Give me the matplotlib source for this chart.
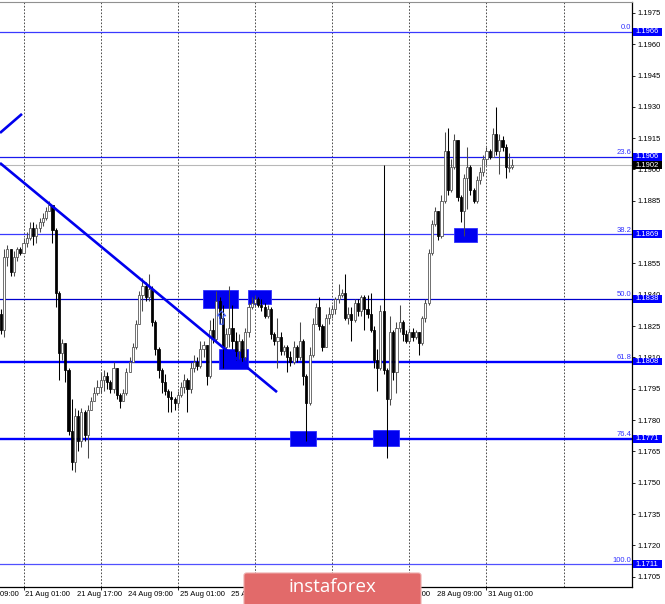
import matplotlib
matplotlib.use("Agg")
import matplotlib.pyplot as plt
import matplotlib.transforms as mtransforms
from matplotlib.patches import Rectangle, FancyBboxPatch
from matplotlib.path import Path
import numpy as np

# ---------------- data (EURUSD H1) ----------------
first_open = 1.1831
closes = [1.1823, 1.1858, 1.1862, 1.1851, 1.1858, 1.1862, 1.1860, 1.1865, 1.1867, 1.1872,
          1.1868, 1.1872, 1.1875, 1.1877, 1.1880, 1.1883, 1.1871, 1.1841, 1.1812, 1.1817,
          1.1804, 1.1775, 1.1760, 1.1782, 1.1770, 1.1784, 1.1773, 1.1785, 1.1789, 1.1793,
          1.1796, 1.1799, 1.1801, 1.1798, 1.1795, 1.1805, 1.1792, 1.1789, 1.1793, 1.1803,
          1.1808, 1.1815, 1.1826, 1.1840, 1.1844, 1.1839, 1.1843, 1.1827, 1.1814, 1.1804,
          1.1798, 1.1794, 1.1791, 1.1790, 1.1788, 1.1792, 1.1796, 1.1799, 1.1795, 1.1805,
          1.1808, 1.1806, 1.1814, 1.1816, 1.1801, 1.1823, 1.1819, 1.1837, 1.1829, 1.1815,
          1.1821, 1.1824, 1.1818, 1.1813, 1.1818, 1.1810, 1.1822, 1.1834, 1.1836, 1.1838,
          1.1835, 1.1834, 1.1830, 1.1833, 1.1821, 1.1818, 1.1820, 1.1813, 1.1815, 1.1810,
          1.1808, 1.1815, 1.1810, 1.1818, 1.1801, 1.1788, 1.1811, 1.1826, 1.1834, 1.1825,
          1.1815, 1.1829, 1.1831, 1.1833, 1.1838, 1.1840, 1.1841, 1.1829, 1.1831, 1.1828,
          1.1836, 1.1832, 1.1839, 1.1833, 1.1831, 1.1823, 1.1809, 1.1805, 1.1832, 1.1804,
          1.1790, 1.1822, 1.1803, 1.1824, 1.1827, 1.1821, 1.1818, 1.1822, 1.1820, 1.1822,
          1.1817, 1.1829, 1.1836, 1.1860, 1.1874, 1.1880, 1.1868, 1.1885, 1.1909, 1.1890,
          1.1901, 1.1914, 1.1887, 1.1880, 1.1896, 1.1901, 1.1890, 1.1885, 1.1895, 1.1899,
          1.1905, 1.1909, 1.1906, 1.1917, 1.1909, 1.1914, 1.1911, 1.1901, 1.1901, 1.1902]
highs = [1.1833, 1.1862, 1.1864, 1.1859, 1.1861, 1.1863, 1.1863, 1.1867, 1.1870, 1.1875,
         1.1875, 1.1874, 1.1877, 1.1879, 1.1882, 1.1885, 1.1883, 1.1872, 1.1842, 1.1819,
         1.1817, 1.1805, 1.1790, 1.1786, 1.1785, 1.1786, 1.1785, 1.1787, 1.1791, 1.1796,
         1.1799, 1.1803, 1.1804, 1.1803, 1.1799, 1.1808, 1.1805, 1.1793, 1.1795, 1.1805,
         1.1810, 1.1817, 1.1828, 1.1842, 1.1848, 1.1846, 1.1850, 1.1844, 1.1828, 1.1815,
         1.1805, 1.1802, 1.1795, 1.1794, 1.1791, 1.1794, 1.1798, 1.1802, 1.1800, 1.1808,
         1.1811, 1.1810, 1.1818, 1.1818, 1.1813, 1.1828, 1.1829, 1.1842, 1.1839, 1.1835,
         1.1824, 1.1844, 1.1835, 1.1822, 1.1821, 1.1819, 1.1824, 1.1836, 1.1839, 1.1840,
         1.1839, 1.1838, 1.1836, 1.1835, 1.1834, 1.1822, 1.1829, 1.1822, 1.1816, 1.1816,
         1.1813, 1.1818, 1.1816, 1.1827, 1.1819, 1.1802, 1.1815, 1.1829, 1.1836, 1.1839,
         1.1826, 1.1831, 1.1834, 1.1835, 1.1839, 1.1845, 1.1843, 1.1850, 1.1834, 1.1834,
         1.1838, 1.1838, 1.1840, 1.1840, 1.1840, 1.1841, 1.1825, 1.1814, 1.1835, 1.1902,
         1.1805, 1.1830, 1.1823, 1.1827, 1.1835, 1.1828, 1.1823, 1.1824, 1.1824, 1.1823,
         1.1822, 1.1830, 1.1838, 1.1862, 1.1876, 1.1882, 1.1880, 1.1888, 1.1918, 1.1920,
         1.1905, 1.1917, 1.1914, 1.1888, 1.1898, 1.1911, 1.1902, 1.1891, 1.1897, 1.1901,
         1.1907, 1.1911, 1.1910, 1.1920, 1.1930, 1.1917, 1.1916, 1.1912, 1.1908, 1.1905]
lows = [1.1821, 1.1820, 1.1854, 1.1849, 1.1849, 1.1856, 1.1859, 1.1860, 1.1863, 1.1866,
        1.1864, 1.1865, 1.1870, 1.1873, 1.1876, 1.1880, 1.1865, 1.1834, 1.1799, 1.1809,
        1.1798, 1.1773, 1.1756, 1.1755, 1.1765, 1.1767, 1.1770, 1.1762, 1.1785, 1.1789,
        1.1792, 1.1793, 1.1794, 1.1795, 1.1793, 1.1793, 1.1790, 1.1786, 1.1790, 1.1792,
        1.1803, 1.1808, 1.1814, 1.1829, 1.1832, 1.1837, 1.1837, 1.1825, 1.1811, 1.1800,
        1.1793, 1.1792, 1.1784, 1.1784, 1.1785, 1.1786, 1.1791, 1.1793, 1.1784, 1.1793,
        1.1803, 1.1804, 1.1805, 1.1810, 1.1797, 1.1800, 1.1817, 1.1818, 1.1826, 1.1805,
        1.1813, 1.1815, 1.1814, 1.1809, 1.1809, 1.1808, 1.1809, 1.1820, 1.1833, 1.1834,
        1.1834, 1.1832, 1.1829, 1.1829, 1.1819, 1.1816, 1.1805, 1.1811, 1.1811, 1.1803,
        1.1806, 1.1807, 1.1808, 1.1809, 1.1797, 1.1770, 1.1787, 1.1810, 1.1826, 1.1823,
        1.1813, 1.1815, 1.1826, 1.1829, 1.1831, 1.1836, 1.1839, 1.1828, 1.1826, 1.1818,
        1.1827, 1.1830, 1.1830, 1.1823, 1.1829, 1.1822, 1.1805, 1.1794, 1.1804, 1.1802,
        1.1762, 1.1787, 1.1799, 1.1793, 1.1822, 1.1818, 1.1817, 1.1817, 1.1818, 1.1819,
        1.1811, 1.1816, 1.1827, 1.1835, 1.1859, 1.1873, 1.1866, 1.1867, 1.1884, 1.1888,
        1.1889, 1.1900, 1.1885, 1.1875, 1.1868, 1.1881, 1.1888, 1.1884, 1.1884, 1.1893,
        1.1897, 1.1902, 1.1905, 1.1906, 1.1907, 1.1898, 1.1909, 1.1896, 1.1899, 1.1900]

date_labels = ["20 Aug 09:00", "21 Aug 01:00", "21 Aug 17:00", "24 Aug 09:00", "25 Aug 01:00",
               "25 Aug 17:00", "26 Aug 09:00", "27 Aug 01:00", "27 Aug 17:00", "28 Aug 09:00",
               "31 Aug 01:00"]
date_label_bars = [-9, 7, 23, 39, 55, 71, 87, 103, 119, 135, 151]
grid_bars = [7, 31, 55, 79, 103, 127, 151, 175]

fib_prices = [1.1966, 1.1906, 1.1869, 1.1838, 1.1808, 1.1771, 1.1711]
fib_names = ["0.0", "23.6", "38.2", "50.0", "61.8", "76.4", "100.0"]
current_price = 1.1902
price_ticks = [1.1705, 1.1720, 1.1735, 1.1750, 1.1765, 1.1780, 1.1795, 1.1810, 1.1825,
               1.1840, 1.1855, 1.1870, 1.1885, 1.1900, 1.1915, 1.1930, 1.1945, 1.1960, 1.1975]

trend_main_x = [-0.31, 85.85]
trend_main_y = [1.19031, 1.17934]
trend_short_x = [-0.31, 6.53]
trend_short_y = [1.19175, 1.19266]

# zones: (bar start, bar end, low price, high price)
zones = [(62.8, 73.7, 1.18337, 1.18423),
         (67.8, 76.8, 1.18045, 1.18140),
         (76.8, 84.0, 1.18356, 1.18423),
         (89.9, 98.0, 1.17676, 1.17748),
         (115.7, 123.8, 1.17676, 1.17752),
         (140.9, 148.1, 1.18653, 1.18720)]
arrow_bar, arrow_price = 68.4, 1.18288

# ---------------- figure ----------------
W, H = 665, 604
fig = plt.figure(figsize=(W / 100, H / 100), dpi=100, facecolor="white")
ax_left, ax_right, ax_top, ax_bottom = 0, 632, 2, 586.7
ax = fig.add_axes([ax_left / W, (H - ax_bottom) / H, (ax_right - ax_left) / W, (ax_bottom - ax_top) / H])
ymin, ymax = 1.17002, 1.19802
ax.set_xlim(-0.311, 196.27)
ax.set_ylim(ymin, ymax)
ax.set_facecolor("white")

n = len(closes)
xs = np.arange(n)
opens = [first_open] + closes[:-1]

# grid
for g in grid_bars:
    ax.axvline(g, color="#303030", lw=0.6, ls=(0, (2, 2)), zorder=0.5)

# fib lines
fib_styles = [("#3a3aff", 0.9), ("#1a1aee", 0.9), ("#3a3aff", 0.9), ("#0000cc", 0.9),
              ("#0000ff", 1.7), ("#0000ff", 1.7), ("#5050ff", 0.9)]
for p, nm, (c, lw) in zip(fib_prices, fib_names, fib_styles):
    ax.axhline(p, color=c, lw=lw, zorder=1)
    ax.text(196.0, p + 0.00003, nm, ha="right", va="bottom", color="#3030ff",
            fontsize=5.5, family="Liberation Sans", zorder=6)
ax.axhline(current_price, color="#b8b8b8", lw=0.8, zorder=1)

# zones
for j0, j1, lo, hi in zones:
    ax.add_patch(Rectangle((j0, lo), j1 - j0, hi - lo, facecolor="#0000f0",
                           edgecolor="#3030ff", lw=0.6, zorder=2))

# candles
bw = 0.66
for x, o, h, l, c in zip(xs, opens, highs, lows, closes):
    bull = c >= o
    col = "#4a4a4a" if bull else "black"
    top = max(h, o, c)
    bot = min(l, o, c)
    ax.vlines(x, bot, top, color=col, lw=0.75, zorder=3)
    ax.bar(x, c - o if abs(c - o) > 1e-6 else 0.00002, bottom=o if abs(c - o) > 1e-6 else o - 0.00001,
           width=bw, facecolor="white" if bull else "black",
           edgecolor=col, lw=0.55, zorder=3.5)

# trend lines
ax.plot(trend_main_x, trend_main_y, color="#0000ee", lw=1.9, zorder=4, solid_capstyle="butt")
ax.plot(trend_short_x, trend_short_y, color="#0000ee", lw=1.9, zorder=4, solid_capstyle="butt")

# hollow up arrow marker
arrow_path = Path([(0, 1), (-0.55, 0.35), (-0.22, 0.35), (-0.22, -0.75), (0.22, -0.75),
                   (0.22, 0.35), (0.55, 0.35), (0, 1)],
                  [Path.MOVETO] + [Path.LINETO] * 6 + [Path.CLOSEPOLY])
ax.plot([arrow_bar], [arrow_price], marker=arrow_path, markersize=11, mfc="none",
        mec="#4060ff", mew=0.8, zorder=5)

# spines
for s in ["left"]:
    ax.spines[s].set_visible(False)
ax.spines["top"].set_color("#909090")
ax.spines["top"].set_linewidth(0.8)
ax.spines["right"].set_color("black")
ax.spines["right"].set_linewidth(0.9)
ax.spines["bottom"].set_color("black")
ax.spines["bottom"].set_linewidth(0.9)

# y axis on right
ax.yaxis.tick_right()
ax.set_yticks(price_ticks)
ax.set_yticklabels([f"{t:.4f}" for t in price_ticks])
ax.tick_params(axis="y", direction="out", length=2.2, width=0.6, pad=1.6,
               labelsize=5.5, colors="black")
for lab in ax.get_yticklabels():
    lab.set_family("Liberation Sans")

# x axis: grid ticks only, labels drawn as text
ax.set_xticks(grid_bars[:-1])
ax.set_xticklabels([])
ax.tick_params(axis="x", direction="out", length=2.2, width=0.6)
xblend = mtransforms.blended_transform_factory(ax.transData, ax.transAxes)
for j, s in zip(date_label_bars, date_labels):
    ax.text(j + 0.55, -0.0125, s, transform=xblend, ha="left", va="center",
            fontsize=5.5, family="Liberation Sans", color="black", clip_on=False)

# price tags at right
blend = mtransforms.blended_transform_factory(fig.transFigure, ax.transData)
px = (ymax - ymin) / (ax_bottom - ax_top)
for p in fib_prices + [current_price]:
    fc = "black" if p == current_price else "#0000ff"
    fig.add_artist(Rectangle((633 / W, p - 3.9 * px), 29 / W, 7.8 * px, transform=blend,
                             facecolor=fc, edgecolor="none", zorder=5))
    fig.text(635 / W, p, f"{p:.4f}", transform=blend, ha="left", va="center",
             fontsize=5.5, family="Liberation Sans", color="white", zorder=6)

# logo
logo = FancyBboxPatch((244 / W, -2 / H), 177 / W, 33 / H,
                      boxstyle="round,pad=0,rounding_size=0.004",
                      transform=fig.transFigure, facecolor="#e26a6a",
                      edgecolor="#eeaaaa", lw=0.8, zorder=10)
fig.add_artist(logo)
fig.text(332 / W, (H - 587) / H, "instaforex", ha="center", va="center",
         fontsize=13.5, family="Open Sans", color="white", zorder=11)

fig.savefig("out.png", dpi=100, facecolor="white")
